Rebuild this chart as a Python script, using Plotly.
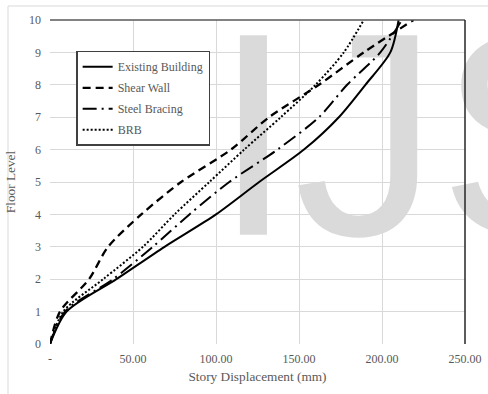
import plotly.graph_objects as go

floors = [0, 1, 2, 3, 4, 5, 6, 7, 8, 9, 10]
existing_building = [0, 10, 40, 69, 100, 126, 153, 174, 190, 205, 210]
shear_wall = [0, 6, 23.5, 35, 55, 79, 109, 132, 162, 189, 219]
steel_bracing = [0, 9, 38, 62, 84, 108, 137, 162, 179, 199, 212]
brb = [0, 8, 32, 56, 75, 96, 117, 139, 160, 177, 189]

x_tickvals = [0, 50, 100, 150, 200, 250]
x_ticktext = ["-", "50.00", "100.00", "150.00", "200.00", "250.00"]
y_tickvals = [0, 1, 2, 3, 4, 5, 6, 7, 8, 9, 10]

series = [
    ("Existing Building", existing_building, dict(color="black", width=2, dash="solid")),
    ("Shear Wall", shear_wall, dict(color="black", width=2.3, dash="8px,5px")),
    ("Steel Bracing", steel_bracing, dict(color="black", width=2, dash="14px,5px,2px,5px")),
    ("BRB", brb, dict(color="black", width=2, dash="2px,2px")),
]

fig = go.Figure()
for i, (name, xs, line) in enumerate(series):
    fig.add_trace(go.Scatter(
        x=xs, y=floors, name=name, mode="lines",
        line=dict(shape="spline", smoothing=0.8, **line),
        legendgroup=f"g{i}",
    ))

serif = "Liberation Serif"
grey = "#595959"

fig.update_layout(
    width=488, height=394,
    margin=dict(l=50, r=23, t=20, b=50, autoexpand=False),
    paper_bgcolor="white",
    plot_bgcolor="white",
    font=dict(family=serif, size=12, color=grey),
    showlegend=True,
    legend=dict(
        x=0.063, y=0.905, xanchor="left", yanchor="top",
        bgcolor="white", bordercolor="#404040", borderwidth=1.5,
        font=dict(family=serif, size=12, color=grey),
        tracegroupgap=2,
    ),
    xaxis=dict(
        range=[0, 250], tickvals=x_tickvals, ticktext=x_ticktext,
        showgrid=True, gridcolor="#d9d9d9", gridwidth=1,
        zeroline=False, showline=False, ticks="",
        ticklabelstandoff=6, automargin=False,
        tickfont=dict(family=serif, size=12, color=grey),
        title=dict(text="Story Displacement (mm)", font=dict(family=serif, size=13.3, color=grey), standoff=6),
        fixedrange=True,
    ),
    yaxis=dict(
        range=[0, 10], tickvals=y_tickvals,
        showgrid=True, gridcolor="#d9d9d9", gridwidth=1,
        zeroline=False, showline=False, ticks="",
        ticklabelstandoff=8, automargin=False,
        tickfont=dict(family=serif, size=12, color=grey),
        title=dict(text="Floor Level", font=dict(family=serif, size=13.3, color=grey), standoff=10),
        fixedrange=True,
    ),
    shapes=[
        # chart area border
        dict(type="rect", xref="paper", yref="paper", x0=-0.1012, x1=1.10, y0=-0.2, y1=1.0432,
             line=dict(color="#d9d9d9", width=1), fillcolor="rgba(0,0,0,0)", layer="below"),
        # watermark
        dict(type="rect", xref="paper", yref="paper", x0=0.398, x1=1.398, y0=0.492, y1=0.972,
             line=dict(width=0), fillcolor="rgba(0,0,0,0)", layer="below",
             label=dict(text="IJS", textposition="middle center",
                        font=dict(family="Liberation Sans, Arial, sans-serif", size=290,
                                  color="rgba(150,150,150,0.35)"))),
        # top and right plot borders
        dict(type="line", xref="x domain", yref="y domain", x0=0, x1=1, y0=1, y1=1,
             line=dict(color="#595959", width=1.5)),
        dict(type="line", xref="x domain", yref="y domain", x0=1, x1=1, y0=0, y1=1,
             line=dict(color="#262626", width=1.5)),
    ],
)

fig.write_html("out.html")
